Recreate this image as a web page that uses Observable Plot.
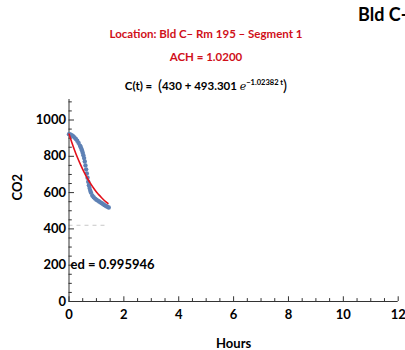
<!DOCTYPE html>
<html>
<head>
<meta charset="utf-8">
<script src="https://cdn.jsdelivr.net/npm/d3@7"></script>
<script src="https://cdn.jsdelivr.net/npm/@observablehq/plot@0.6"></script>
<style>
  html, body { margin: 0; padding: 0; background: #fff; }
  #wrap { position: relative; width: 405px; height: 350px; overflow: hidden; font-family: Lato, "Open Sans", sans-serif; font-weight: bold; }
  #wrap svg { position: absolute; left: 0; top: 0; }
  .t { position: absolute; white-space: nowrap; line-height: 1; }
  #bld { left: 358px; top: 5px; font-size: 18px; color: #000; }
  #loc { left: 0; width: 412px; text-align: center; top: 28px; font-size: 11.5px; color: #d0101a; }
  #ach { left: 0; width: 412px; text-align: center; top: 51px; font-size: 11.5px; color: #d0101a; }
  #fit { left: 0; width: 412px; text-align: center; top: 78px; font-size: 11.5px; color: #000; }
  #fit sup { font-size: 7.5px; vertical-align: 5px; }
  #fit .p { font-size: 15px; font-weight: normal; vertical-align: -1px; }
  #fit i { font-weight: normal; font-family: "DejaVu Serif", serif; font-size: 11px; }
</style>
</head>
<body>
<div id="wrap">
  <div class="t" id="bld">Bld C-</div>
  <div class="t" id="loc">Location: Bld C– Rm 195 – Segment 1</div>
  <div class="t" id="ach">ACH = 1.0200</div>
  <div class="t" id="fit">C(t) = &nbsp;<span class="p">(</span>430 + 493.301 <i>e</i><sup>−1.02382 t</sup><span class="p">)</span></div>
</div>
<script>
// Measured CO2 (ppm) vs hours
const hours = [0.00,0.05,0.10,0.15,0.20,0.25,0.30,0.35,0.40,0.425,0.45,0.475,0.50,0.525,0.55,0.575,0.60,0.625,0.65,0.675,0.70,0.725,0.75,0.775,0.80,0.85,0.90,0.95,1.00,1.05,1.10,1.15,1.20,1.25,1.30,1.35,1.40,1.45];
const co2   = [922,920,916,911,904,896,886,874,859,851,842,832,820,806,790,771,750,728,705,682,660,641,625,611,600,584,574,567,561,556,551,546,541,536,531,526,522,518];

// Fitted decay curve
const fitHours = [0,0.1,0.2,0.3,0.4,0.5,0.6,0.7,0.8,0.9,1.0,1.1,1.2,1.3,1.42];
const fitCO2   = [923,878,835,796,761,728,698,671,647,624,604,586,570,555,540];

// Background (ambient) level shown dashed
const ambientLevel = 420;
const ambientSpan = [0, 1.4];

const rSquaredLabel = "ed = 0.995946";
const xTicks = [0,2,4,6,8,10,12];
const yTicks = [0,200,400,600,800,1000];
const xMinor = d3.range(0, 12.01, 0.5);
const yMinor = d3.range(0, 1101, 50);

const points = hours.map((h, i) => ({h, c: co2[i]}));
const fit = fitHours.map((h, i) => ({h, c: fitCO2[i]}));

const chart = Plot.plot({
  width: 405,
  height: 350,
  marginLeft: 68.5,
  marginRight: 7.3,
  marginTop: 99,
  marginBottom: 49,
  style: {fontFamily: "Lato, 'Open Sans', sans-serif", fontWeight: "bold", fontSize: "12.5px", background: "transparent", color: "#000"},
  x: {domain: [0, 12], axis: null},
  y: {domain: [0, 1113], axis: null},
  marks: [
    Plot.ruleY([ambientLevel], {x1: ambientSpan[0], x2: ambientSpan[1], stroke: "#c8c8c8", strokeDasharray: "4,4", strokeWidth: 1}),
    Plot.ruleX([0], {y1: 0, y2: 1113, stroke: "#333", strokeWidth: 1}),
    Plot.ruleY([0], {x1: 0, x2: 12, stroke: "#333", strokeWidth: 1}),
    Plot.ruleY(yMinor, {x1: 0, x2: (d) => (d % 200 === 0 ? 0.2 : 0.12), stroke: "#333", strokeWidth: 1}),
    Plot.ruleX(xMinor, {y1: 0, y2: (d) => (d % 2 === 0 ? 26 : 16), stroke: "#333", strokeWidth: 1}),
    Plot.axisX({ticks: xTicks, tickFormat: d3.format("d"), tickSize: 0, tickPadding: 8, label: null, fontSize: 13, fontWeight: "bold"}),
    Plot.axisY({ticks: yTicks, tickFormat: d3.format("d"), tickSize: 0, tickPadding: 3, label: null, fontSize: 13, fontWeight: "bold"}),
    Plot.dot(points, {x: "h", y: "c", r: 2.2, fill: "#5e81b5", stroke: "none"}),
    Plot.line(fit, {x: "h", y: "c", stroke: "#e3101b", strokeWidth: 1.6, curve: "natural"}),
    Plot.text([rSquaredLabel], {x: () => 0, y: () => 200, text: (d) => d, textAnchor: "start", dx: 1.5, fontSize: 13, fontWeight: "bold", fill: "#000"}),
    Plot.text(["CO2"], {frameAnchor: "left", text: (d) => d, rotate: -90, dx: -51, fontSize: 13, fontWeight: "bold"}),
    Plot.text(["Hours"], {frameAnchor: "bottom", text: (d) => d, dy: 46, fontSize: 13, fontWeight: "bold"})
  ]
});
document.getElementById("wrap").prepend(chart);
</script>
</body>
</html>
